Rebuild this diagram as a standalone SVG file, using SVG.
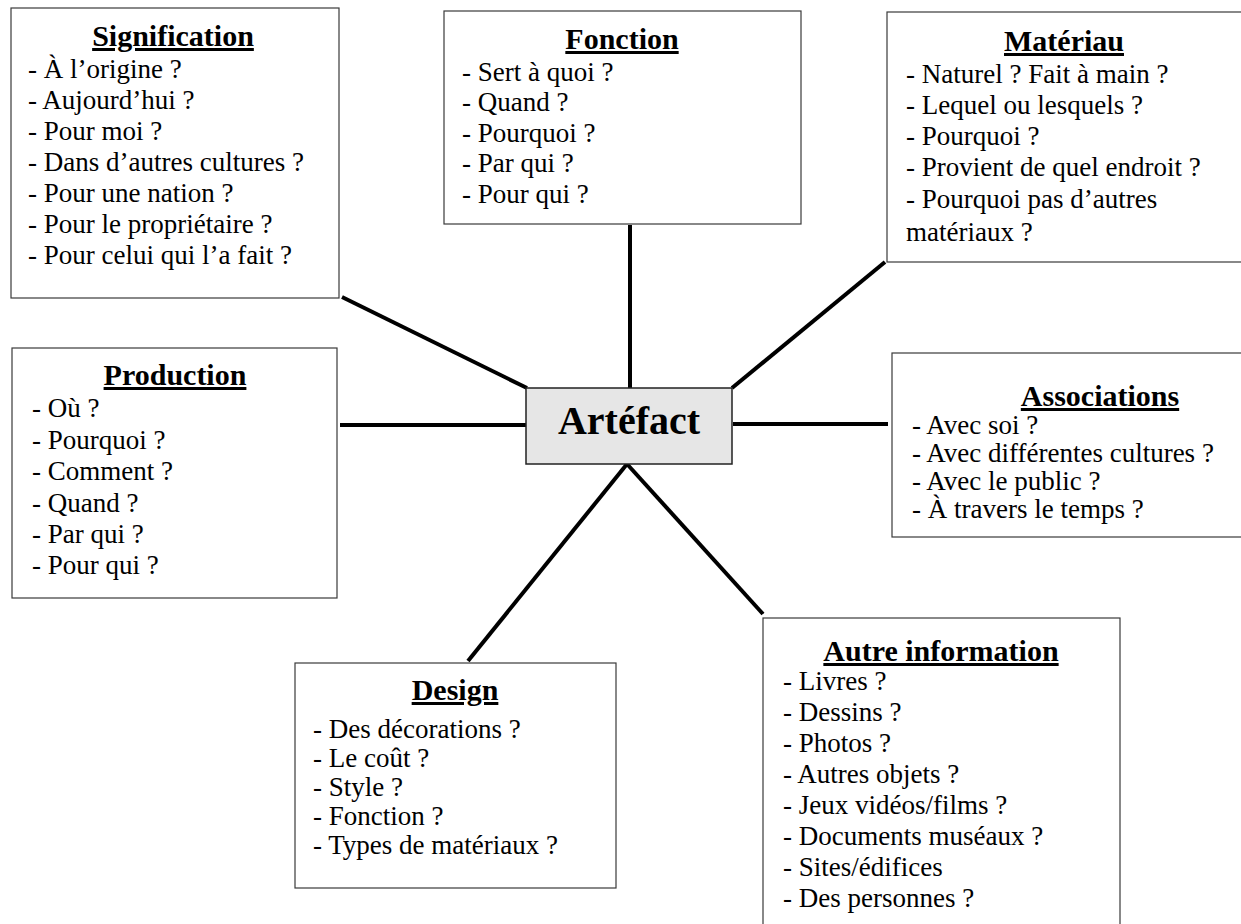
<svg xmlns="http://www.w3.org/2000/svg" width="1241" height="924" viewBox="0 0 1241 924">
  <style>
    .box { fill: #ffffff; stroke: #3a3a3a; stroke-width: 1.2; }
    .core { fill: #e6e6e6; stroke: #222222; stroke-width: 1.5; }
    .title { font-family: "Liberation Serif", "Times New Roman", serif; font-size: 30px; font-weight: bold; text-anchor: middle; text-decoration: underline; fill: #000; }
    .item { font-family: "Liberation Serif", "Times New Roman", serif; font-size: 27px; fill: #000; }
    .center { font-family: "Liberation Serif", "Times New Roman", serif; font-size: 40px; font-weight: bold; text-anchor: middle; fill: #000; }
    .link { stroke: #000; stroke-width: 4; fill: none; }
  </style>
  <rect width="1241" height="924" fill="#ffffff"/>

  <!-- spokes from the central box -->
  <g id="connectors">
    <line class="link" x1="342" y1="297" x2="527" y2="388"/>
    <line class="link" x1="630" y1="225" x2="630" y2="388"/>
    <line class="link" x1="885" y1="262" x2="732" y2="388"/>
    <line class="link" x1="340" y1="425" x2="526" y2="425"/>
    <line class="link" x1="733" y1="424" x2="888" y2="424"/>
    <line class="link" x1="627" y1="464" x2="468" y2="661"/>
    <line class="link" x1="627" y1="464" x2="763" y2="614"/>
  </g>

  <g id="signification">
    <rect class="box" x="11" y="8" width="328" height="290"/>
    <text class="title" x="173" y="46">Signification</text>
    <text class="item" x="28" y="78">- À l’origine ?</text>
    <text class="item" x="28" y="109">- Aujourd’hui ?</text>
    <text class="item" x="28" y="140">- Pour moi ?</text>
    <text class="item" x="28" y="171">- Dans d’autres cultures ?</text>
    <text class="item" x="28" y="202">- Pour une nation ?</text>
    <text class="item" x="28" y="233">- Pour le propriétaire ?</text>
    <text class="item" x="28" y="264">- Pour celui qui l’a fait ?</text>
  </g>

  <g id="fonction">
    <rect class="box" x="444" y="11" width="357" height="213"/>
    <text class="title" x="622" y="49">Fonction</text>
    <text class="item" x="462" y="81">- Sert à quoi ?</text>
    <text class="item" x="462" y="111">- Quand ?</text>
    <text class="item" x="462" y="142">- Pourquoi ?</text>
    <text class="item" x="462" y="172">- Par qui ?</text>
    <text class="item" x="462" y="203">- Pour qui ?</text>
  </g>

  <g id="materiau">
    <rect class="box" x="887" y="12" width="400" height="250"/>
    <text class="title" x="1064" y="51">Matériau</text>
    <text class="item" x="906" y="83">- Naturel ? Fait à main ?</text>
    <text class="item" x="906" y="114">- Lequel ou lesquels ?</text>
    <text class="item" x="906" y="145">- Pourquoi ?</text>
    <text class="item" x="906" y="176">- Provient de quel endroit ?</text>
    <text class="item" x="906" y="208">- Pourquoi pas d’autres</text>
    <text class="item" x="906" y="241">matériaux ?</text>
  </g>

  <g id="production">
    <rect class="box" x="12" y="348" width="325" height="250"/>
    <text class="title" x="175" y="385">Production</text>
    <text class="item" x="32" y="417">- Où ?</text>
    <text class="item" x="32" y="449">- Pourquoi ?</text>
    <text class="item" x="32" y="480">- Comment ?</text>
    <text class="item" x="32" y="512">- Quand ?</text>
    <text class="item" x="32" y="543">- Par qui ?</text>
    <text class="item" x="32" y="574">- Pour qui ?</text>
  </g>

  <g id="artefact">
    <rect class="core" x="526" y="388" width="206" height="76"/>
    <text class="center" x="629" y="434">Artéfact</text>
  </g>

  <g id="associations">
    <rect class="box" x="892" y="353" width="400" height="184"/>
    <text class="title" x="1100" y="406">Associations</text>
    <text class="item" x="912" y="434">- Avec soi ?</text>
    <text class="item" x="912" y="462">- Avec différentes cultures ?</text>
    <text class="item" x="912" y="490">- Avec le public ?</text>
    <text class="item" x="912" y="518">- À travers le temps ?</text>
  </g>

  <g id="design">
    <rect class="box" x="295" y="663" width="321" height="225"/>
    <text class="title" x="455" y="700">Design</text>
    <text class="item" x="313" y="738">- Des décorations ?</text>
    <text class="item" x="313" y="767">- Le coût ?</text>
    <text class="item" x="313" y="796">- Style ?</text>
    <text class="item" x="313" y="825">- Fonction ?</text>
    <text class="item" x="313" y="854">- Types de matériaux ?</text>
  </g>

  <g id="autre-information">
    <rect class="box" x="763" y="618" width="357" height="350"/>
    <text class="title" x="941" y="661">Autre information</text>
    <text class="item" x="783" y="690">- Livres ?</text>
    <text class="item" x="783" y="721">- Dessins ?</text>
    <text class="item" x="783" y="752">- Photos ?</text>
    <text class="item" x="783" y="783">- Autres objets ?</text>
    <text class="item" x="783" y="814">- Jeux vidéos/films ?</text>
    <text class="item" x="783" y="845">- Documents muséaux ?</text>
    <text class="item" x="783" y="876">- Sites/édifices</text>
    <text class="item" x="783" y="907">- Des personnes ?</text>
  </g>
</svg>
